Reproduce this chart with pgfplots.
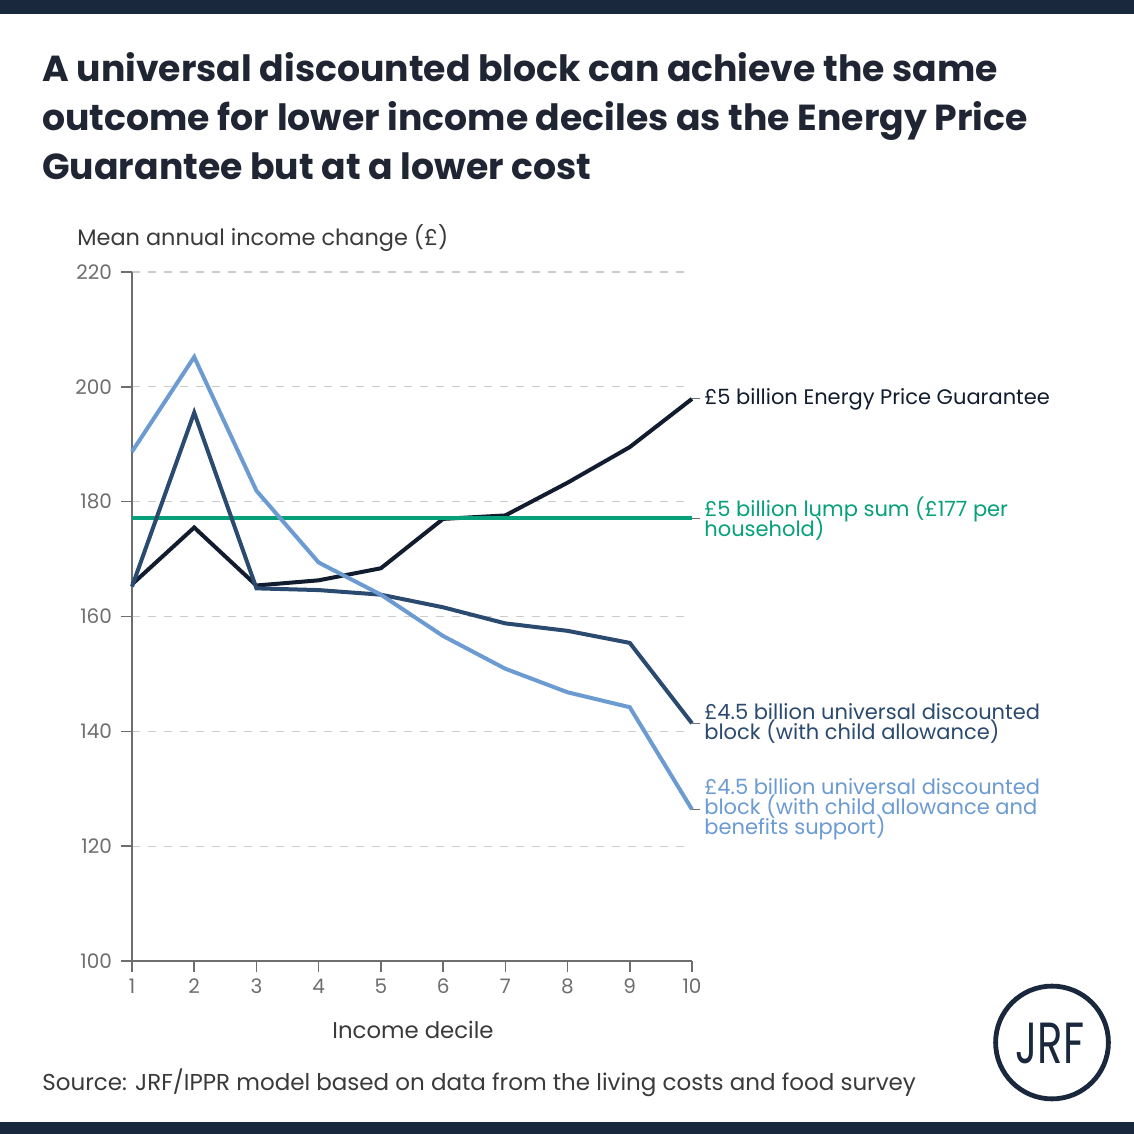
\documentclass[border=0pt]{standalone}
\usepackage{fontspec}
\setmainfont{Poppins}
\usepackage{pgfplots}
\pgfplotsset{compat=1.18}
\definecolor{navybar}{HTML}{19283D}
\definecolor{titlec}{HTML}{1F2532}
\definecolor{epg}{HTML}{111C2E}
\definecolor{blockc}{HTML}{2B4A70}
\definecolor{lightb}{HTML}{6C9BD2}
\definecolor{lump}{HTML}{06A07A}
\definecolor{axisgray}{HTML}{6E6E6E}
\definecolor{gridgray}{HTML}{CCCCCC}
\definecolor{textgray}{HTML}{3A3A3A}

\pgfplotstableread{
x y
1 165.6
2 175.5
3 165.4
4 166.3
5 168.4
6 177.0
7 177.6
8 183.3
9 189.5
10 197.9
}\epg
\pgfplotstableread{
x y
1 177.1
10 177.1
}\lumpsum
\pgfplotstableread{
x y
1 165.2
2 195.5
3 164.9
4 164.6
5 163.8
6 161.6
7 158.8
8 157.5
9 155.4
10 141.4
}\blockca
\pgfplotstableread{
x y
1 188.7
2 205.2
3 181.9
4 169.4
5 163.8
6 156.6
7 150.9
8 146.8
9 144.2
10 126.4
}\blockcb

\begin{document}
\lineskiplimit=-20pt
\lineskip=0pt
\begin{tikzpicture}
\useasboundingbox (0,0) rectangle (567pt,567pt);
\fill[white] (0,0) rectangle (567pt,567pt);
\fill[navybar] (0,560pt) rectangle (567pt,567pt);
\fill[navybar] (0,0) rectangle (567pt,6pt);
% title
\begin{scope}[every node/.style={anchor=base west, inner sep=0pt, text=titlec, font=\fontsize{18.1}{20}\selectfont\bfseries}]
\node at (21pt,526pt) {A universal discounted block can achieve the same};
\node at (21pt,501.5pt) {outcome for lower income deciles as the Energy Price};
\node at (21pt,477pt) {Guarantee but at a lower cost};
\end{scope}
\node[anchor=west, inner sep=0pt, text=textgray, font=\fontsize{11.2}{13}\selectfont] at (38.5pt,448pt) {Mean annual income change (£)};
\node[anchor=center, inner sep=0pt, text=textgray, font=\fontsize{11.4}{13}\selectfont] at (206.5pt,52pt) {Income decile};
\node[anchor=west, inner sep=0pt, text=textgray, font=\fontsize{11.5}{13}\selectfont] at (21pt,25.5pt) {Source: JRF/IPPR model based on data from the living costs and food survey};
% logo
\draw[navybar, line width=2.4pt] (526pt,45.75pt) circle (28.2pt);
\node[text=navybar, inner sep=0pt, font=\fontsize{29}{29}\selectfont] at (525pt,45.5pt) {\scalebox{0.72}[1]{JRF}};

\begin{axis}[
  at={(66pt,86.5pt)}, anchor=south west,
  scale only axis, width=280pt, height=344.5pt,
  xmin=1, xmax=10, ymin=100, ymax=220,
  axis x line*=bottom, axis y line*=left,
  axis line style={draw=axisgray, line width=0.8pt, -},
  xtick={1,...,10}, ytick={100,120,...,220},
  tick align=outside, major tick length=5.5pt,
  tick style={draw=axisgray, line width=0.8pt},
  ymajorgrids, grid style={draw=gridgray, dashed, line width=0.6pt, dash pattern=on 4pt off 4pt},
  /pgf/number format/assume math mode=true,
  tick label style={text=axisgray, font=\fontsize{10}{12}\selectfont},
  yticklabel style={xshift=-1pt},
  clip=false,
]
\addplot[epg, line width=2pt] table {\epg};
\addplot[lump, line width=2pt] table {\lumpsum};
\addplot[blockc, line width=2pt] table {\blockca};
\addplot[lightb, line width=2pt] table {\blockcb};
% end connectors
\draw[axisgray, line width=0.5pt] (axis cs:10,197.9) -- ++(4pt,0pt);
\draw[axisgray, line width=0.5pt] (axis cs:10,177.1) -- ++(4pt,0pt);
\draw[axisgray, line width=0.5pt] (axis cs:10,141.4) -- ++(4pt,0pt);
\draw[axisgray, line width=0.5pt] (axis cs:10,126.4) -- ++(4pt,0pt);
\begin{scope}[every node/.style={anchor=west, inner sep=0pt, align=left, font=\fontsize{10.5}{9.9}\selectfont}]
\node[text=epg] at ([xshift=6pt]axis cs:10,197.9) {£5 billion Energy Price Guarantee};
\node[text=lump] at ([xshift=6pt]axis cs:10,177.1) {£5 billion lump sum (£177 per\\household)};
\node[text=blockc] at ([xshift=6pt]axis cs:10,141.4) {£4.5 billion universal discounted\\block (with child allowance)};
\node[text=lightb] at ([xshift=6pt]axis cs:10,126.4) {£4.5 billion universal discounted\\block (with child allowance and\\benefits support)};
\end{scope}
\end{axis}
\end{tikzpicture}
\end{document}
